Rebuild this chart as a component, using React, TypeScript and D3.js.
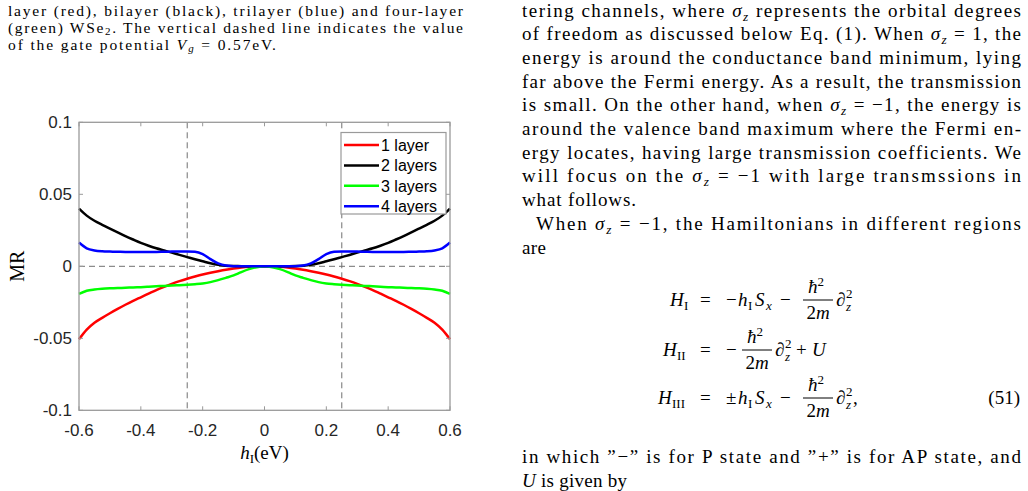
import React from "react";
import * as d3 from "d3";

// h_I grid (eV) shared by all four curves
const hValues = [
  -0.6, -0.575, -0.55, -0.525, -0.5, -0.475, -0.45, -0.425, -0.4, -0.375, -0.35, -0.325, -0.3,
  -0.275, -0.25, -0.225, -0.2, -0.175, -0.15, -0.125, -0.1, -0.075, -0.05, -0.025, 0,
  0.025, 0.05, 0.075, 0.1, 0.125, 0.15, 0.175, 0.2, 0.225, 0.25, 0.275, 0.3, 0.325, 0.35,
  0.375, 0.4, 0.425, 0.45, 0.475, 0.5, 0.525, 0.55, 0.575, 0.6,
];

const oneLayer = [
  -0.0507, -0.044, -0.0392, -0.0358, -0.0326, -0.0296, -0.0267, -0.024, -0.0215, -0.019, -0.0165,
  -0.0143, -0.0122, -0.0103, -0.0086, -0.0071, -0.0057, -0.0045, -0.0034, -0.0024, -0.0016,
  -0.0009, -0.0004, -0.0001, 0,
  -0.0001, -0.0004, -0.0009, -0.0016, -0.0024, -0.0034, -0.0045, -0.0057, -0.0071, -0.0086,
  -0.0103, -0.0122, -0.0143, -0.0165, -0.019, -0.0215, -0.024, -0.0267, -0.0296, -0.0326,
  -0.0358, -0.0392, -0.044, -0.0507,
];

const twoLayers = [
  0.04, 0.0352, 0.0316, 0.0288, 0.0262, 0.0236, 0.021, 0.0186, 0.0163, 0.0143, 0.0125, 0.011,
  0.0095, 0.0079, 0.0064, 0.0049, 0.0035, 0.0021, 0.001, 0.0004, 0.0002, 0.0001, 0, 0, 0,
  0, 0, 0.0001, 0.0002, 0.0004, 0.001, 0.0021, 0.0035, 0.0049, 0.0064, 0.0079, 0.0095, 0.011,
  0.0125, 0.0143, 0.0163, 0.0186, 0.021, 0.0236, 0.0262, 0.0288, 0.0316, 0.0352, 0.04,
];

const threeLayers = [
  -0.0192, -0.017, -0.0161, -0.0156, -0.0153, -0.0151, -0.0149, -0.0147, -0.0145, -0.0142,
  -0.0139, -0.0136, -0.0134, -0.0131, -0.0128, -0.0124, -0.0119, -0.011, -0.0096, -0.008,
  -0.0063, -0.004, -0.002, -0.0006, 0,
  -0.0006, -0.002, -0.004, -0.0063, -0.008, -0.0096, -0.011, -0.0119, -0.0124, -0.0128,
  -0.0131, -0.0134, -0.0136, -0.0139, -0.0142, -0.0145, -0.0147, -0.0149, -0.0151, -0.0153,
  -0.0156, -0.0161, -0.017, -0.0192,
];

const fourLayers = [
  0.0165, 0.0125, 0.011, 0.0104, 0.0102, 0.0101, 0.01, 0.01, 0.01, 0.01, 0.01, 0.0101, 0.0102,
  0.0103, 0.0103, 0.0101, 0.0085, 0.005, 0.002, 0.0005, 0.0001, 0, 0, 0, 0,
  0, 0, 0, 0.0001, 0.0005, 0.002, 0.005, 0.0085, 0.0101, 0.0103, 0.0103, 0.0102, 0.0101, 0.01,
  0.01, 0.01, 0.01, 0.01, 0.0101, 0.0102, 0.0104, 0.011, 0.0125, 0.0165,
];

const seriesNames = ["1 layer", "2 layers", "3 layers", "4 layers"];
const seriesValues = [oneLayer, twoLayers, threeLayers, fourLayers];
const seriesColors = ["#ff0000", "#000000", "#00ff00", "#0000ff"];

const xTicks = [-0.6, -0.4, -0.2, 0, 0.2, 0.4, 0.6];
const yTicks = [-0.1, -0.05, 0, 0.05, 0.1];
const gateMarks = [-0.25, 0.25];

const serif = "'Liberation Serif', 'Times New Roman', serif";
const sans = "'Liberation Sans', Arial, Helvetica, sans-serif";

const W = 1028;
const H = 491;
const box = { left: 79, right: 450, top: 122.3, bottom: 410.3 };

const x = d3.scaleLinear().domain([-0.6, 0.6]).range([box.left, box.right]);
const y = d3.scaleLinear().domain([-0.1, 0.1]).range([box.bottom, box.top]);

const fmt = (v: number) => (v === 0 ? "0" : String(v));

// sigma_z inline math, followed by the rest of the line
const Sigma = ({ after, size }: { after: string; size: number }) => (
  <>
    <tspan fontStyle="italic">σ</tspan>
    <tspan fontStyle="italic" fontSize={size * 0.7} dy={4}>
      z
    </tspan>
    <tspan dy={-4}>{after}</tspan>
  </>
);

const BODY = 19;
const colX = 522;
const colW = 499;
const lineY = (k: number) => 16.5 + 23.7 * k;

function Chart() {
  const line = d3
    .line<number>()
    .x((_, i) => x(hValues[i]))
    .y((d) => y(d))
    .curve(d3.curveMonotoneX);

  const legendX = 341;
  const legendY = 132.5;

  return (
    <g>
      {/* reference lines */}
      <line x1={box.left} x2={box.right} y1={y(0)} y2={y(0)} stroke="#707070" strokeDasharray="6 4" />
      {gateMarks.map((g) => (
        <line key={g} x1={x(g)} x2={x(g)} y1={box.top} y2={box.bottom} stroke="#707070" strokeDasharray="6 4" />
      ))}

      {/* curves */}
      {seriesValues.map((vals, i) => (
        <path key={seriesNames[i]} d={line(vals) ?? ""} fill="none" stroke={seriesColors[i]} strokeWidth={2.5} strokeLinejoin="round" />
      ))}

      {/* axes box and ticks */}
      <rect x={box.left} y={box.top} width={box.right - box.left} height={box.bottom - box.top} fill="none" stroke="#9a9a9a" strokeWidth={1.3} />
      {xTicks.map((t) => (
        <g key={t}>
          <line x1={x(t)} x2={x(t)} y1={box.bottom} y2={box.bottom - 4} stroke="#9a9a9a" />
          <line x1={x(t)} x2={x(t)} y1={box.top} y2={box.top + 4} stroke="#9a9a9a" />
          <text x={x(t)} y={box.bottom + 26} textAnchor="middle" fontFamily={sans} fontSize={17} fill="#262626">
            {fmt(t)}
          </text>
        </g>
      ))}
      {yTicks.map((t) => (
        <g key={t}>
          <line x1={box.left} x2={box.left + 4} y1={y(t)} y2={y(t)} stroke="#9a9a9a" />
          <line x1={box.right} x2={box.right - 4} y1={y(t)} y2={y(t)} stroke="#9a9a9a" />
          <text x={box.left - 7} y={y(t) + 6} textAnchor="end" fontFamily={sans} fontSize={17} fill="#262626">
            {fmt(t)}
          </text>
        </g>
      ))}

      {/* axis labels */}
      <text transform={`translate(23.5,${(box.top + box.bottom) / 2}) rotate(-90)`} textAnchor="middle" fontFamily={serif} fontSize={20}>
        MR
      </text>
      <text x={(box.left + box.right) / 2} y={459} textAnchor="middle" fontFamily={serif} fontSize={19}>
        <tspan fontStyle="italic">h</tspan>
        <tspan fontSize={13} dy={4}>I</tspan>
        <tspan dy={-4}>(eV)</tspan>
      </text>

      {/* legend */}
      <rect x={legendX} y={legendY} width={105} height={81.5} fill="#fff" stroke="#9a9a9a" strokeWidth={1.2} />
      {seriesNames.map((name, i) => {
        const ry = legendY + 12.5 + i * 20.4;
        return (
          <g key={name}>
            <line x1={legendX + 3} x2={legendX + 38} y1={ry} y2={ry} stroke={seriesColors[i]} strokeWidth={2.5} />
            <text x={legendX + 40} y={ry + 6} fontFamily={sans} fontSize={16} fill="#000">
              {name}
            </text>
          </g>
        );
      })}
    </g>
  );
}

function Caption() {
  const size = 15.5;
  return (
    <g fontFamily={serif} fontSize={size} fill="#000">
      <text x={8} y={15.5} textLength={455} lengthAdjust="spacing">
        layer (red), bilayer (black), trilayer (blue) and four-layer
      </text>
      <text x={8} y={32.5} textLength={455} lengthAdjust="spacing">
        (green) WSe<tspan fontSize={11} dy={2}>2</tspan>
        <tspan dy={-2}>. The vertical dashed line indicates the value</tspan>
      </text>
      <text x={8} y={49.5} textLength={268} lengthAdjust="spacing">
        of the gate potential <tspan fontStyle="italic">V</tspan>
        <tspan fontStyle="italic" fontSize={11} dy={2}>g</tspan>
        <tspan dy={-2}> = 0.57eV.</tspan>
      </text>
    </g>
  );
}

function Body() {
  const s = BODY;
  const full = { textLength: colW, lengthAdjust: "spacing" as const };
  return (
    <g fontFamily={serif} fontSize={s} fill="#000">
      <text x={colX} y={lineY(0)} {...full}>
        tering channels, where <Sigma size={s} after=" represents the orbital degrees" />
      </text>
      <text x={colX} y={lineY(1)} {...full}>
        of freedom as discussed below Eq. (1). When <Sigma size={s} after=" = 1, the" />
      </text>
      <text x={colX} y={lineY(2)} {...full}>
        energy is around the conductance band minimum, lying
      </text>
      <text x={colX} y={lineY(3)} {...full}>
        far above the Fermi energy. As a result, the transmission
      </text>
      <text x={colX} y={lineY(4)} {...full}>
        is small. On the other hand, when <Sigma size={s} after=" = −1, the energy is" />
      </text>
      <text x={colX} y={lineY(5)} {...full}>
        around the valence band maximum where the Fermi en-
      </text>
      <text x={colX} y={lineY(6)} {...full}>
        ergy locates, having large transmission coefficients. We
      </text>
      <text x={colX} y={lineY(7)} {...full}>
        will focus on the <Sigma size={s} after=" = −1 with large transmssions in" />
      </text>
      <text x={colX} y={lineY(8)} textLength={114} lengthAdjust="spacing">
        what follows.
      </text>
      <text x={colX + 14} y={lineY(9)} textLength={colW - 14} lengthAdjust="spacing">
        When <Sigma size={s} after=" = −1, the Hamiltonians in different regions" />
      </text>
      <text x={colX} y={lineY(10)} textLength={24} lengthAdjust="spacing">
        are
      </text>
      <text x={colX} y={463} {...full}>
        in which ”−” is for P state and ”+” is for AP state, and
      </text>
      <text x={colX} y={486.5} textLength={105} lengthAdjust="spacing">
        <tspan fontStyle="italic">U</tspan> is given by
      </text>
    </g>
  );
}

// one stacked fraction hbar^2 / 2m centred on cx
const Frac = ({ cx, b }: { cx: number; b: number }) => (
  <g>
    <text x={cx - 2} y={b - 13} textAnchor="middle" fontStyle="italic">
      ħ<tspan fontStyle="normal" fontSize={13} dy={-7}>2</tspan>
    </text>
    <line x1={cx - 15} x2={cx + 15} y1={b - 6} y2={b - 6} stroke="#000" strokeWidth={1} />
    <text x={cx} y={b + 13} textAnchor="middle">
      2<tspan fontStyle="italic">m</tspan>
    </text>
  </g>
);

const Partial = ({ px, b }: { px: number; b: number }) => (
  <g>
    <text x={px} y={b}>∂</text>
    <text x={px + 10} y={b - 8} fontSize={13}>2</text>
    <text x={px + 10} y={b + 5} fontSize={13} fontStyle="italic">z</text>
  </g>
);

function Equations() {
  const b1 = 306;
  const b2 = 356;
  const b3 = 404;
  return (
    <g fontFamily={serif} fontSize={BODY} fill="#000">
      {/* H_I */}
      <text x={670} y={b1} fontStyle="italic">H</text>
      <text x={684} y={b1 + 4} fontSize={13}>I</text>
      <text x={700} y={b1}>=</text>
      <text x={726} y={b1}>−</text>
      <text x={738} y={b1} fontStyle="italic">h</text>
      <text x={748} y={b1 + 4} fontSize={13}>I</text>
      <text x={755} y={b1} fontStyle="italic">S</text>
      <text x={766} y={b1 + 4} fontSize={13} fontStyle="italic">x</text>
      <text x={780} y={b1}>−</text>
      <Frac cx={818} b={b1} />
      <Partial px={836} b={b1} />

      {/* H_II */}
      <text x={663} y={b2} fontStyle="italic">H</text>
      <text x={677} y={b2 + 4} fontSize={13}>II</text>
      <text x={700} y={b2}>=</text>
      <text x={726} y={b2}>−</text>
      <Frac cx={757} b={b2} />
      <Partial px={775} b={b2} />
      <text x={796} y={b2}>+</text>
      <text x={812} y={b2} fontStyle="italic">U</text>

      {/* H_III */}
      <text x={658} y={b3} fontStyle="italic">H</text>
      <text x={672} y={b3 + 4} fontSize={13}>III</text>
      <text x={700} y={b3}>=</text>
      <text x={726} y={b3}>±</text>
      <text x={738} y={b3} fontStyle="italic">h</text>
      <text x={748} y={b3 + 4} fontSize={13}>I</text>
      <text x={755} y={b3} fontStyle="italic">S</text>
      <text x={766} y={b3 + 4} fontSize={13} fontStyle="italic">x</text>
      <text x={780} y={b3}>−</text>
      <Frac cx={818} b={b3} />
      <Partial px={836} b={b3} />
      <text x={853} y={b3}>,</text>
      <text x={1020} y={b3} textAnchor="end">(51)</text>
    </g>
  );
}

export default function App() {
  return (
    <svg
      width={W}
      height={H}
      viewBox={`0 0 ${W} ${H}`}
      style={{ position: "absolute", left: 0, top: 0, background: "#fff" }}
    >
      <rect width={W} height={H} fill="#fff" />
      <Caption />
      <Chart />
      <Body />
      <Equations />
    </svg>
  );
}
